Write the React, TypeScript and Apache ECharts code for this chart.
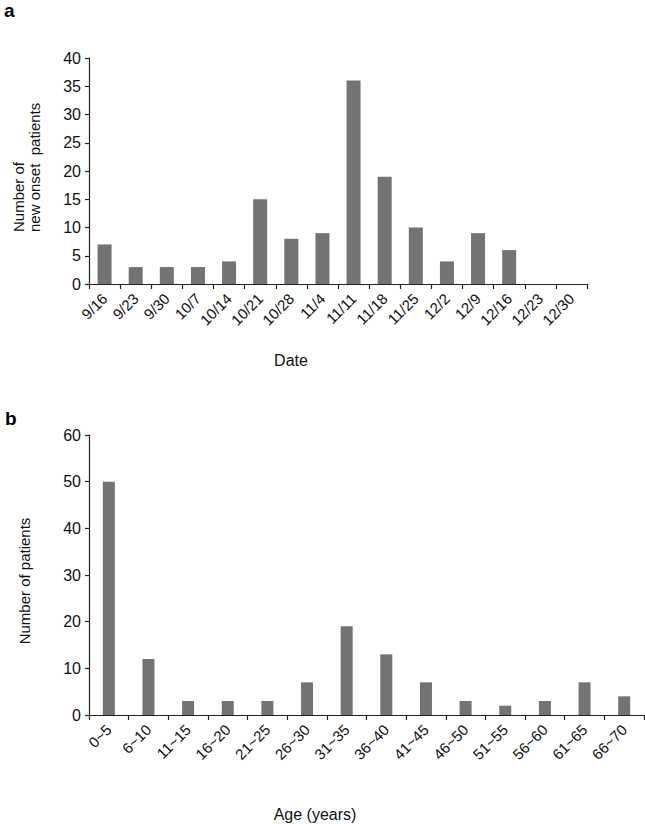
import React, { useEffect, useRef } from "react";
import * as echarts from "echarts";

const dates = ["9/16", "9/23", "9/30", "10/7", "10/14", "10/21", "10/28", "11/4", "11/11", "11/18", "11/25", "12/2", "12/9", "12/16", "12/23", "12/30"];
const newOnset = [7, 3, 3, 3, 4, 15, 8, 9, 36, 19, 10, 4, 9, 6, 0, 0];

const ageGroups = ["0~5", "6~10", "11~15", "16~20", "21~25", "26~30", "31~35", "36~40", "41~45", "46~50", "51~55", "56~60", "61~65", "66~70"];
const patientsByAge = [50, 12, 3, 3, 3, 7, 19, 13, 7, 3, 2, 3, 7, 4];

const FONT = "'Liberation Sans', Arial, sans-serif";
const TXT = "#111";
const AX = "#222";

export default function App() {
  const ref = useRef<HTMLDivElement>(null);
  useEffect(() => {
    if (!ref.current) return;
    const chart = echarts.init(ref.current, undefined, { renderer: "svg" });
    const axisCommon = {
      axisLine: { show: true, lineStyle: { color: AX, width: 1.2 } },
      axisTick: { show: true, length: 5, lineStyle: { color: AX, width: 1.2 } },
      splitLine: { show: false },
    };
    const xLabel = { rotate: 45, interval: 0, fontSize: 15, color: TXT, margin: 12, fontFamily: FONT };
    const yLabel = { fontSize: 16, color: TXT, margin: 8, fontFamily: FONT };
    chart.setOption({
      animation: false,
      backgroundColor: "#fff",
      textStyle: { fontFamily: FONT },
      grid: [
        { left: 89, top: 58, width: 498, height: 226 },
        { left: 89, top: 435, width: 555, height: 280 },
      ],
      xAxis: [
        { gridIndex: 0, type: "category", data: dates, ...axisCommon, axisLabel: xLabel },
        { gridIndex: 1, type: "category", data: ageGroups, ...axisCommon, axisLabel: xLabel },
      ],
      yAxis: [
        {
          gridIndex: 0, type: "value", min: 0, max: 40, interval: 5, ...axisCommon,
          axisTick: { show: true, length: 4, lineStyle: { color: AX, width: 1.2 } },
          axisLabel: yLabel,
        },
        {
          gridIndex: 1, type: "value", min: 0, max: 60, interval: 10, ...axisCommon,
          axisTick: { show: true, length: 4, lineStyle: { color: AX, width: 1.2 } },
          axisLabel: yLabel,
        },
      ],
      series: [
        {
          type: "bar", xAxisIndex: 0, yAxisIndex: 0, data: newOnset, barWidth: 14,
          itemStyle: { color: "#737373" },
        },
        {
          type: "bar", xAxisIndex: 1, yAxisIndex: 1, data: patientsByAge, barWidth: 12,
          itemStyle: { color: "#737373" },
        },
      ],
      graphic: [
        { type: "text", left: 4, top: 1, style: { text: "a", fontSize: 19, fontWeight: "bold", fill: "#000", fontFamily: FONT } },
        { type: "text", left: 5, top: 409, style: { text: "b", fontSize: 19, fontWeight: "bold", fill: "#000", fontFamily: FONT } },
        {
          type: "text", x: 18, y: 232, rotation: Math.PI / 2,
          style: { text: "Number of", fontSize: 15, fill: TXT, align: "left", verticalAlign: "middle", fontFamily: FONT },
        },
        {
          type: "text", x: 34, y: 232, rotation: Math.PI / 2,
          style: { text: "new onset  patients", fontSize: 15, fill: TXT, align: "left", verticalAlign: "middle", fontFamily: FONT },
        },
        {
          type: "text", x: 24, y: 581, rotation: Math.PI / 2,
          style: { text: "Number of patients", fontSize: 15, fill: TXT, align: "center", verticalAlign: "middle", fontFamily: FONT },
        },
        {
          type: "text", x: 291, y: 360,
          style: { text: "Date", fontSize: 16, fill: TXT, align: "center", verticalAlign: "middle", fontFamily: FONT },
        },
        {
          type: "text", x: 315, y: 814,
          style: { text: "Age (years)", fontSize: 16, fill: TXT, align: "center", verticalAlign: "middle", fontFamily: FONT },
        },
      ],
    });
    return () => chart.dispose();
  }, []);
  return <div ref={ref} style={{ position: "fixed", left: 0, top: 0, width: 645, height: 824, background: "#fff" }} />;
}
